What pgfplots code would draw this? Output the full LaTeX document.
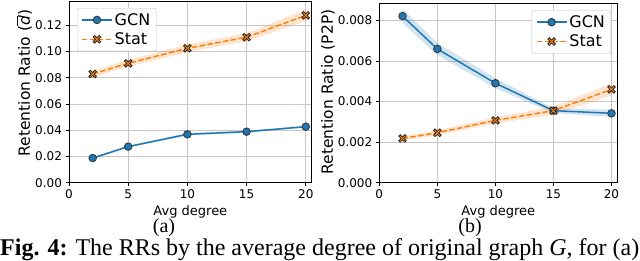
\documentclass[border=0pt]{standalone}
\usepackage{pgfplots}
\pgfplotsset{compat=1.18}
\usepackage{fontspec}
\setmainfont{DejaVu Sans}
\newfontfamily\capfont{Liberation Serif}
\definecolor{c0}{HTML}{1F77B4}
\definecolor{c1}{HTML}{FF7F0E}
\newcommand{\lf}{\fontsize{13}{15}\selectfont}
\newcommand{\ylf}{\fontsize{15.5}{18}\selectfont}
\newcommand{\lgf}{\fontsize{16}{18}\selectfont}
\pgfdeclareplotmark{Xf}{%
  \pgfmathsetmacro{\xmR}{\pgfplotmarksize}%
  \pgfmathsetmacro{\xmA}{0.38*\pgfplotmarksize}%
  \pgfmathsetmacro{\xmB}{\xmR-\xmA}%
  \pgfpathmoveto{\pgfpoint{0pt}{\xmA pt}}%
  \pgfpathlineto{\pgfpoint{\xmB pt}{\xmR pt}}%
  \pgfpathlineto{\pgfpoint{\xmR pt}{\xmB pt}}%
  \pgfpathlineto{\pgfpoint{\xmA pt}{0pt}}%
  \pgfpathlineto{\pgfpoint{\xmR pt}{-\xmB pt}}%
  \pgfpathlineto{\pgfpoint{\xmB pt}{-\xmR pt}}%
  \pgfpathlineto{\pgfpoint{0pt}{-\xmA pt}}%
  \pgfpathlineto{\pgfpoint{-\xmB pt}{-\xmR pt}}%
  \pgfpathlineto{\pgfpoint{-\xmR pt}{-\xmB pt}}%
  \pgfpathlineto{\pgfpoint{-\xmA pt}{0pt}}%
  \pgfpathlineto{\pgfpoint{-\xmR pt}{\xmB pt}}%
  \pgfpathlineto{\pgfpoint{-\xmB pt}{\xmR pt}}%
  \pgfpathclose
  \pgfusepathqfillstroke}
\pgfplotsset{
  mystyle/.style={
    scale only axis,
    anchor=south west,
    xmin=0, xmax=20.5,
    xtick={0,5,10,15,20},
    tick align=outside,
    tick pos=left,
    major tick length=3.5pt,
    every tick/.style={black, line width=0.8pt},
    axis line style={black, line width=0.8pt},
    grid=major,
    major grid style={color=black!22, line width=0.8pt},
    tick label style={font=\fontsize{12}{14}\selectfont},
    scaled y ticks=false,
    /pgf/number format/assume math mode=true,
    legend style={draw=black!25, rounded corners=2pt, fill=white, inner xsep=4pt, inner ysep=3pt, row sep=2pt, cells={anchor=west}},
    legend image code/.code={\draw[mark repeat=2, mark phase=2, ##1] plot coordinates {(0pt,0pt) (15pt,0pt) (30pt,0pt)};},
    xlabel={\lf Avg degree},
    every axis x label/.style={at={(axis description cs:0.5,0)}, anchor=base, yshift=-33.3pt},
  },
  gcn/.style={c0, line width=1.5pt, mark=*, mark size=3.8pt, mark options={solid, fill=c0, draw=black!80, line width=0.8pt}},
  stat/.style={c1, line width=1.5pt, dash pattern=on 5.5pt off 2.4pt, mark=Xf, mark size=3.8pt, mark options={solid, fill=c1, draw=black!85, line width=0.8pt}},
  bandg/.style={fill=c0, fill opacity=0.2, draw=none, forget plot},
  bands/.style={fill=c1, fill opacity=0.2, draw=none, forget plot},
}
\begin{document}
\begin{tikzpicture}
\useasboundingbox (0pt,0pt) rectangle (640pt,261pt);
% ---------- (a) ----------
\begin{axis}[mystyle,
  at={(69pt,78.3pt)}, width=242.7pt, height=181pt,
  ymin=0, ymax=0.138,
  ytick={0,0.02,0.04,0.06,0.08,0.10,0.12},
  yticklabel style={/pgf/number format/.cd, fixed, fixed zerofill, precision=2},
  ylabel={\ylf Retention Ratio ($\overline{\mbox{\ylf\textit{d}}}$)},
  every axis y label/.style={at={(axis description cs:-0.185,0.55)}, rotate=90, anchor=center},
  legend style={at={(axis description cs:0.033,0.965)}, anchor=north west},
]
\addplot[bandg] coordinates {(2,0.0196) (5,0.0283) (10,0.0379) (15,0.0397) (20,0.0435) (20,0.0419) (15,0.0381) (10,0.0359) (5,0.0267) (2,0.0180)} -- cycle;
\addplot[bands] coordinates {(2,0.0854) (5,0.0935) (10,0.1055) (15,0.1139) (20,0.1321) (20,0.1231) (15,0.1079) (10,0.0995) (5,0.0885) (2,0.0804)} -- cycle;
\addplot[gcn] coordinates {(2,0.0188) (5,0.0275) (10,0.0369) (15,0.0389) (20,0.0427)};
\addlegendentry{\lgf GCN}
\addplot[stat] coordinates {(2,0.0829) (5,0.0910) (10,0.1025) (15,0.1109) (20,0.1276)};
\addlegendentry{\lgf Stat}
\end{axis}
% ---------- (b) ----------
\begin{axis}[mystyle,
  at={(379.3pt,78.3pt)}, width=238pt, height=179.4pt,
  ymin=0, ymax=0.00884,
  ytick={0,0.002,0.004,0.006,0.008},
  yticklabel style={/pgf/number format/.cd, fixed, fixed zerofill, precision=3},
  ylabel={\ylf Retention Ratio (P2P)},
  every axis y label/.style={at={(axis description cs:-0.215,0.505)}, rotate=90, anchor=center},
  legend style={at={(axis description cs:0.974,0.961)}, anchor=north east},
]
\addplot[bandg] coordinates {(2,0.00856) (5,0.00689) (10,0.00515) (15,0.00367) (20,0.00360) (20,0.00324) (15,0.00343) (10,0.00465) (5,0.00629) (2,0.00786)} -- cycle;
\addplot[bands] coordinates {(2,0.00228) (5,0.00258) (10,0.00322) (15,0.00375) (20,0.00490) (20,0.00430) (15,0.00335) (10,0.00292) (5,0.00234) (2,0.00208)} -- cycle;
\addplot[gcn] coordinates {(2,0.00821) (5,0.00659) (10,0.00490) (15,0.00355) (20,0.00342)};
\addlegendentry{\lgf GCN}
\addplot[stat] coordinates {(2,0.00218) (5,0.00246) (10,0.00307) (15,0.00355) (20,0.00460)};
\addlegendentry{\lgf Stat}
\end{axis}
% ---------- captions ----------
\node[anchor=base, inner sep=0] at (164pt,28pt) {\capfont\fontsize{20}{22}\selectfont (a)};
\node[anchor=base, inner sep=0] at (470pt,28pt) {\capfont\fontsize{20}{22}\selectfont (b)};
\node[anchor=base west, inner sep=0] at (0pt,5pt) {\capfont\fontsize{24}{26}\selectfont\textbf{Fig. 4:} The RRs by the average degree of original graph \textit{G}, for (a)};
\end{tikzpicture}
\end{document}
